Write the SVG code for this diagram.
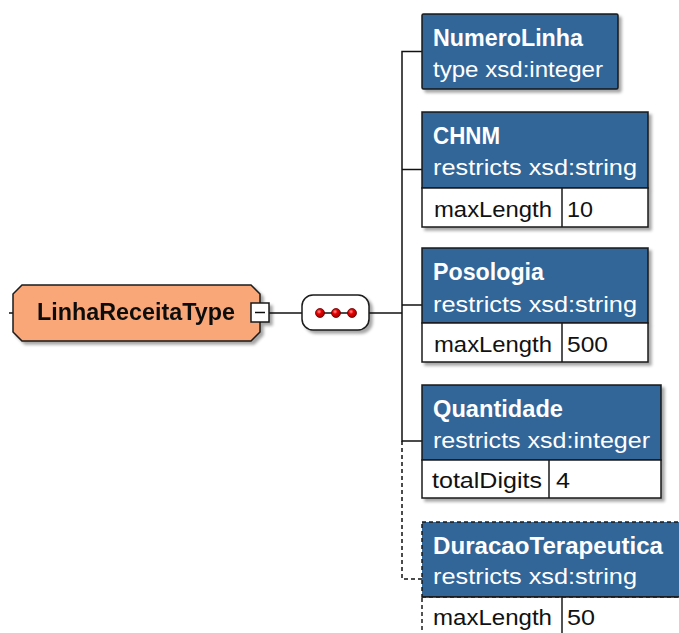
<svg xmlns="http://www.w3.org/2000/svg" width="679" height="633" viewBox="0 0 679 633">
<defs>
<filter id="sh" x="-10%" y="-10%" width="130%" height="140%">
<feDropShadow dx="3" dy="3" stdDeviation="1.5" flood-color="#000" flood-opacity="0.35"/>
</filter>
<radialGradient id="dot" cx="40%" cy="35%" r="65%">
<stop offset="0" stop-color="#ff9a9a"/>
<stop offset="0.4" stop-color="#ee0000"/>
<stop offset="1" stop-color="#990000"/>
</radialGradient>
</defs>
<style>
.hdr{fill:#336699;stroke:#1a1a1a;stroke-width:1.5}
.row{fill:#fff;stroke:#1a1a1a;stroke-width:1.5}
.div{stroke:#1a1a1a;stroke-width:1.5}
.dash{stroke-dasharray:4,3}
.t{font-family:"Liberation Sans",Arial,sans-serif;font-weight:bold;font-size:23px;fill:#fff}
.s{font-family:"Liberation Sans",Arial,sans-serif;font-size:22px;fill:#fff}
.r{font-family:"Liberation Sans",Arial,sans-serif;font-size:22px;fill:#111}
.c{stroke:#111;stroke-width:1.5;fill:none}
</style>
<g id="connectors">
<line class="c" x1="9" y1="313" x2="13" y2="313"/>
<line class="c" x1="269" y1="313" x2="302" y2="313"/>
<line class="c" x1="369" y1="313" x2="402" y2="313"/>
<polyline class="c" points="422,51.5 402,51.5 402,441 422,441"/>
<line class="c" x1="402" y1="169.5" x2="422" y2="169.5"/>
<line class="c" x1="402" y1="305" x2="422" y2="305"/>
<polyline class="c dash" points="402,441 402,579 422,579"/>
</g>
<g id="LinhaReceitaType" filter="url(#sh)">
<polygon points="22,285 251,285 260,294 260,332 251,341 22,341 13,332 13,294" fill="#f9a678" stroke="#1a1a1a" stroke-width="1.5"/>
<text x="37" y="320" font-family="Liberation Sans, Arial, sans-serif" font-weight="bold" font-size="23" fill="#111" textLength="198" lengthAdjust="spacingAndGlyphs">LinhaReceitaType</text>
<rect x="251" y="303" width="18" height="19" fill="#fff" stroke="#1a1a1a" stroke-width="1.5"/>
<line x1="255" y1="312.5" x2="265" y2="312.5" stroke="#111" stroke-width="1.5"/>
</g>
<g id="sequence">
<rect x="302" y="295" width="67" height="35" rx="11" fill="#fff" stroke="#1a1a1a" stroke-width="1.5" filter="url(#sh)"/>
<line x1="316" y1="313" x2="356" y2="313" stroke="#111" stroke-width="1.5"/>
<circle cx="320" cy="313" r="4.5" fill="url(#dot)" stroke="#600" stroke-width="0.8"/>
<circle cx="336" cy="313" r="4.5" fill="url(#dot)" stroke="#600" stroke-width="0.8"/>
<circle cx="352" cy="313" r="4.5" fill="url(#dot)" stroke="#600" stroke-width="0.8"/>
</g>
<g id="NumeroLinha">
<rect class="hdr" x="422" y="14" width="196" height="75" rx="1.5" filter="url(#sh)"/>
<text class="t" x="433" y="46" textLength="150" lengthAdjust="spacingAndGlyphs">NumeroLinha</text>
<text class="s" x="433" y="77" textLength="170" lengthAdjust="spacingAndGlyphs">type xsd:integer</text>
</g>
<g id="CHNM">
<g filter="url(#sh)">
<rect class="hdr" x="422" y="112" width="226" height="76"/>
<rect class="row" x="422" y="188" width="226" height="39"/>
</g>
<line class="div" x1="562" y1="188" x2="562" y2="227"/>
<text class="t" x="433" y="144" textLength="67" lengthAdjust="spacingAndGlyphs">CHNM</text>
<text class="s" x="433" y="175" textLength="204" lengthAdjust="spacingAndGlyphs">restricts xsd:string</text>
<text class="r" x="434" y="217" textLength="118" lengthAdjust="spacingAndGlyphs">maxLength</text>
<text class="r" x="567" y="217" textLength="26" lengthAdjust="spacingAndGlyphs">10</text>
</g>
<g id="Posologia">
<g filter="url(#sh)">
<rect class="hdr" x="422" y="248" width="226" height="75"/>
<rect class="row" x="422" y="323" width="226" height="39"/>
</g>
<line class="div" x1="562" y1="323" x2="562" y2="362"/>
<text class="t" x="433" y="280" textLength="111" lengthAdjust="spacingAndGlyphs">Posologia</text>
<text class="s" x="433" y="311.5" textLength="204" lengthAdjust="spacingAndGlyphs">restricts xsd:string</text>
<text class="r" x="434" y="352" textLength="118" lengthAdjust="spacingAndGlyphs">maxLength</text>
<text class="r" x="567" y="352" textLength="41" lengthAdjust="spacingAndGlyphs">500</text>
</g>
<g id="Quantidade">
<g filter="url(#sh)">
<rect class="hdr" x="422" y="385" width="239" height="75"/>
<rect class="row" x="422" y="460" width="239" height="38"/>
</g>
<line class="div" x1="549" y1="460" x2="549" y2="498"/>
<text class="t" x="433" y="416.5" textLength="130" lengthAdjust="spacingAndGlyphs">Quantidade</text>
<text class="s" x="433" y="448" textLength="217" lengthAdjust="spacingAndGlyphs">restricts xsd:integer</text>
<text class="r" x="432" y="488" textLength="110" lengthAdjust="spacingAndGlyphs">totalDigits</text>
<text class="r" x="556" y="488" textLength="14" lengthAdjust="spacingAndGlyphs">4</text>
</g>
<g id="DuracaoTerapeutica">
<g filter="url(#sh)">
<rect class="hdr dash" x="422" y="522" width="264" height="75"/>
<rect class="row dash" x="422" y="597" width="264" height="43"/>
</g>
<line class="div" x1="422" y1="597" x2="686" y2="597"/>
<line class="div" x1="562" y1="597" x2="562" y2="640"/>
<text class="t" x="433" y="553.5" textLength="230" lengthAdjust="spacingAndGlyphs">DuracaoTerapeutica</text>
<text class="s" x="433" y="584" textLength="204" lengthAdjust="spacingAndGlyphs">restricts xsd:string</text>
<text class="r" x="433" y="625" textLength="119" lengthAdjust="spacingAndGlyphs">maxLength</text>
<text class="r" x="567" y="625" textLength="28" lengthAdjust="spacingAndGlyphs">50</text>
</g>
</svg>
